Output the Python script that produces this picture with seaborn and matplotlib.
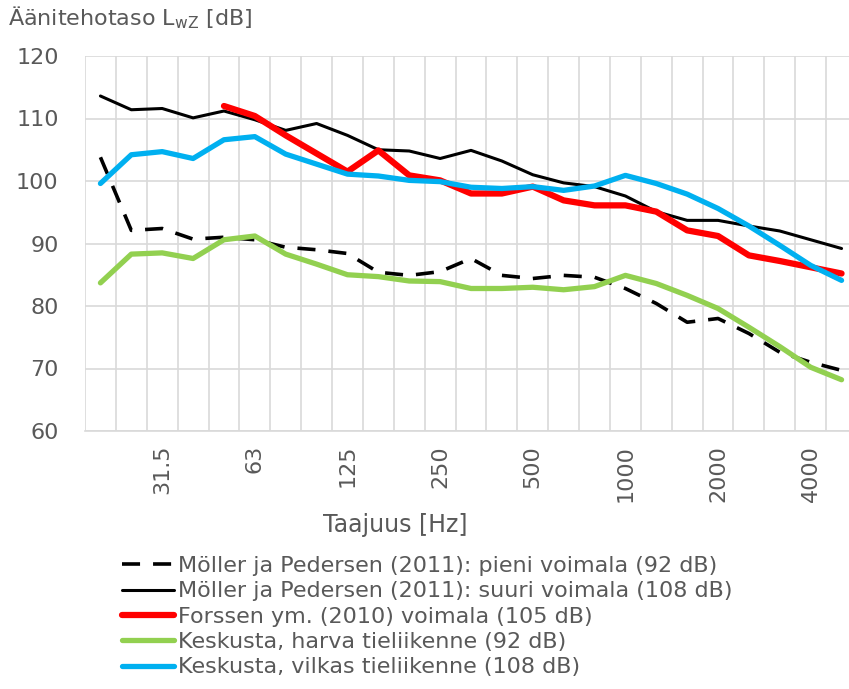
import numpy as np
import pandas as pd
import matplotlib
matplotlib.use("Agg")
import matplotlib.pyplot as plt
import seaborn as sns

freqs = ["20", "25", "31.5", "40", "50", "63", "80", "100", "125", "160", "200", "250",
         "315", "400", "500", "630", "800", "1000", "1250", "1600", "2000", "2500",
         "3150", "4000", "5000"]

pieni = [103.8, 92.1, 92.4, 90.7, 91.0, 90.6, 89.4, 89.0, 88.4, 85.4, 84.9, 85.5,
         87.6, 84.9, 84.4, 84.9, 84.6, 82.8, 80.4, 77.4, 78.0, 75.6, 72.6, 71.0, 69.7]
suuri = [113.6, 111.4, 111.6, 110.1, 111.2, 109.8, 108.1, 109.2, 107.3, 105.0, 104.8, 103.6,
         104.9, 103.2, 101.0, 99.7, 99.1, 97.6, 95.1, 93.7, 93.7, 92.8, 92.0, 90.6, 89.2]
forssen = [np.nan, np.nan, np.nan, np.nan, 112.0, 110.4, 107.3, 104.4, 101.5, 104.9, 100.9, 100.1,
           98.0, 98.0, 99.1, 96.9, 96.1, 96.1, 95.1, 92.1, 91.2, 88.1, 87.2, 86.2, 85.2]
harva = [83.7, 88.3, 88.5, 87.6, 90.6, 91.2, 88.3, 86.7, 85.0, 84.7, 84.0, 83.9,
         82.8, 82.8, 83.0, 82.6, 83.1, 84.9, 83.6, 81.7, 79.6, 76.6, 73.5, 70.2, 68.2]
vilkas = [99.6, 104.2, 104.7, 103.6, 106.6, 107.1, 104.3, 102.7, 101.1, 100.8, 100.1, 99.9,
          99.0, 98.8, 99.1, 98.5, 99.2, 100.9, 99.6, 97.9, 95.6, 92.8, 89.7, 86.5, 84.1]

labels = ["Möller ja Pedersen (2011): pieni voimala (92 dB)",
          "Möller ja Pedersen (2011): suuri voimala (108 dB)",
          "Forssen ym. (2010) voimala (105 dB)",
          "Keskusta, harva tieliikenne (92 dB)",
          "Keskusta, vilkas tieliikenne (108 dB)"]
tick_labels = ["31.5", "63", "125", "250", "500", "1000", "2000", "4000"]

series = [pieni, suuri, forssen, harva, vilkas]
colors = ["black", "black", "#FF0000", "#92D050", "#00B0F0"]
widths = [2.6, 2.2, 4.5, 3.8, 3.8]
dashes = [(5, 3.6), None, None, None, None]

sns.set_style("white")
plt.rcParams["font.family"] = ["DejaVu Sans"]
txt = "#595959"
grid_c = "#d9d9d9"

fig = plt.figure(figsize=(8.49, 6.89), dpi=100)
ax = fig.add_axes([85 / 849, 1 - 431 / 689, 772 / 849, 375 / 689])

idx = np.arange(len(freqs))
# category boundary gridlines
for b in np.arange(len(freqs) + 1) - 0.5:
    ax.axvline(b, color=grid_c, linewidth=1.2, zorder=0)

handles = []
for s, lab, c, w, d in zip(series, labels, colors, widths, dashes):
    df = pd.DataFrame({"x": idx, "y": s})
    sns.lineplot(data=df, x="x", y="y", ax=ax, color=c, linewidth=w, label=lab,
                 legend=False, zorder=3)
    ln = ax.lines[-1]
    ln.set_solid_capstyle("round")
    ln.set_solid_joinstyle("round")
    if d is not None:
        ln.set_dashes(d)
        ln.set_dash_capstyle("butt")
    handles.append(ln)

ax.set_xlim(-0.5, len(freqs) - 0.5)
ax.set_ylim(60, 120)
ax.set_yticks(np.arange(60, 121, 10))
ax.set_yticklabels([str(v) for v in range(60, 121, 10)])
pos = [freqs.index(t) for t in tick_labels]
ax.set_xticks(pos)
ax.set_xticklabels(tick_labels, rotation=90)
ax.grid(False)
ax.grid(True, which="major", axis="y", color=grid_c, linewidth=1.2, zorder=0)
ax.set_axisbelow(True)
for sp in ["top", "right", "left"]:
    ax.spines[sp].set_visible(False)
ax.spines["bottom"].set_color(grid_c)
ax.spines["bottom"].set_linewidth(1.2)
ax.tick_params(axis="x", which="both", length=0, pad=10, labelsize=16, labelcolor=txt)
ax.tick_params(axis="y", length=0, pad=19, labelsize=16, labelcolor=txt)
ax.set_xlabel("")
ax.set_ylabel("")

fig.text(8 / 849, 1 - 18 / 689, r"Äänitehotaso L$_{\mathregular{wZ}}$ [dB]", fontsize=16,
         color=txt, ha="left", va="center")
fig.text(395 / 849, 1 - 525 / 689, "Taajuus [Hz]", fontsize=17, color=txt,
         ha="center", va="center")

leg = fig.legend(handles=handles, labels=labels, loc="upper left",
                 bbox_to_anchor=(122 / 849, 1 - 556 / 689), frameon=False,
                 fontsize=16, handlelength=2.35, handletextpad=0.15, labelspacing=0.24,
                 borderaxespad=0, borderpad=0)
for t in leg.get_texts():
    t.set_color(txt)

fig.savefig("out.png", dpi=100)
